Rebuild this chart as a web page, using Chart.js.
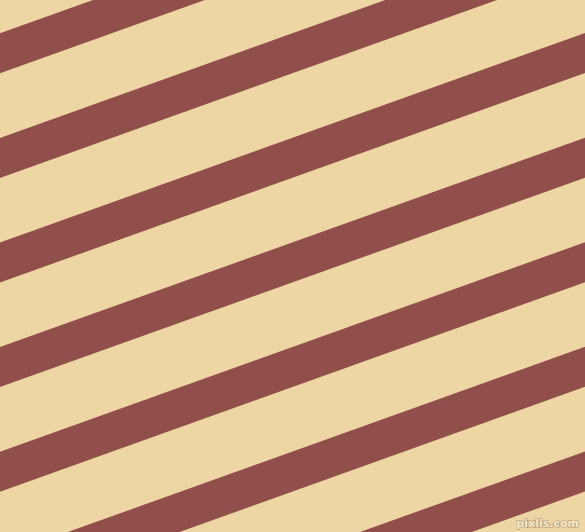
<!DOCTYPE html>
<html>
<head>
<meta charset="utf-8">
<title>Stripes</title>
<script src="https://cdn.jsdelivr.net/npm/chart.js@4.4.1/dist/chart.umd.min.js"></script>
<style>
  html, body { margin: 0; padding: 0; background: #EDD6A4; }
  #wrap { width: 585px; height: 532px; position: relative; }
</style>
</head>
<body>
<div id="wrap"><canvas id="stripes"></canvas></div>
<script>
// Stripe data (y of each edge where it meets x = 0)
const slope = 0.358;
const stripeTops = [-71.3, 33.3, 137.9, 242.5, 347.1, 451.7, 556.3, 660.9, 765.5];
const stripeBottoms = [-31.3, 73.3, 177.9, 282.5, 387.1, 491.7, 596.3, 700.9, 805.5];
const xEdges = [0, 585];

const stripeColor = '#914F4B';
const groundColor = '#EDD6A4';

// Build a pair of datasets per stripe: top edge, then bottom edge filled up to it
const datasets = [];
stripeTops.forEach((top, i) => {
  datasets.push({
    data: xEdges.map(x => ({ x: x, y: top - slope * x })),
    showLine: true,
    fill: false,
    borderWidth: 0,
    borderColor: 'transparent',
    pointRadius: 0
  });
  datasets.push({
    data: xEdges.map(x => ({ x: x, y: stripeBottoms[i] - slope * x })),
    showLine: true,
    fill: '-1',
    backgroundColor: stripeColor,
    borderWidth: 0,
    borderColor: 'transparent',
    pointRadius: 0
  });
});

// Paint the ground and the little watermark
const backdrop = {
  id: 'backdrop',
  beforeDraw(chart) {
    const ctx = chart.ctx;
    ctx.save();
    ctx.fillStyle = groundColor;
    ctx.fillRect(0, 0, chart.width, chart.height);
    ctx.restore();
  },
  afterDraw(chart) {
    const ctx = chart.ctx;
    ctx.save();
    ctx.font = 'bold 11px "DejaVu Sans"';
    ctx.textAlign = 'right';
    ctx.textBaseline = 'alphabetic';
    ctx.lineWidth = 1.5;
    ctx.strokeStyle = 'rgba(140, 110, 80, 0.45)';
    ctx.strokeText('pixlis.com', 579, 527);
    ctx.fillStyle = '#F4E8CC';
    ctx.fillText('pixlis.com', 579, 527);
    ctx.restore();
  }
};

new Chart(document.getElementById('stripes'), {
  type: 'scatter',
  data: { datasets: datasets },
  options: {
    responsive: true,
    maintainAspectRatio: false,
    animation: false,
    layout: { padding: 0 },
    plugins: {
      legend: { display: false },
      tooltip: { enabled: false }
    },
    scales: {
      x: { type: 'linear', min: 0, max: 585, display: false },
      y: { type: 'linear', min: 0, max: 532, reverse: true, display: false }
    }
  },
  plugins: [backdrop]
});
</script>
</body>
</html>
